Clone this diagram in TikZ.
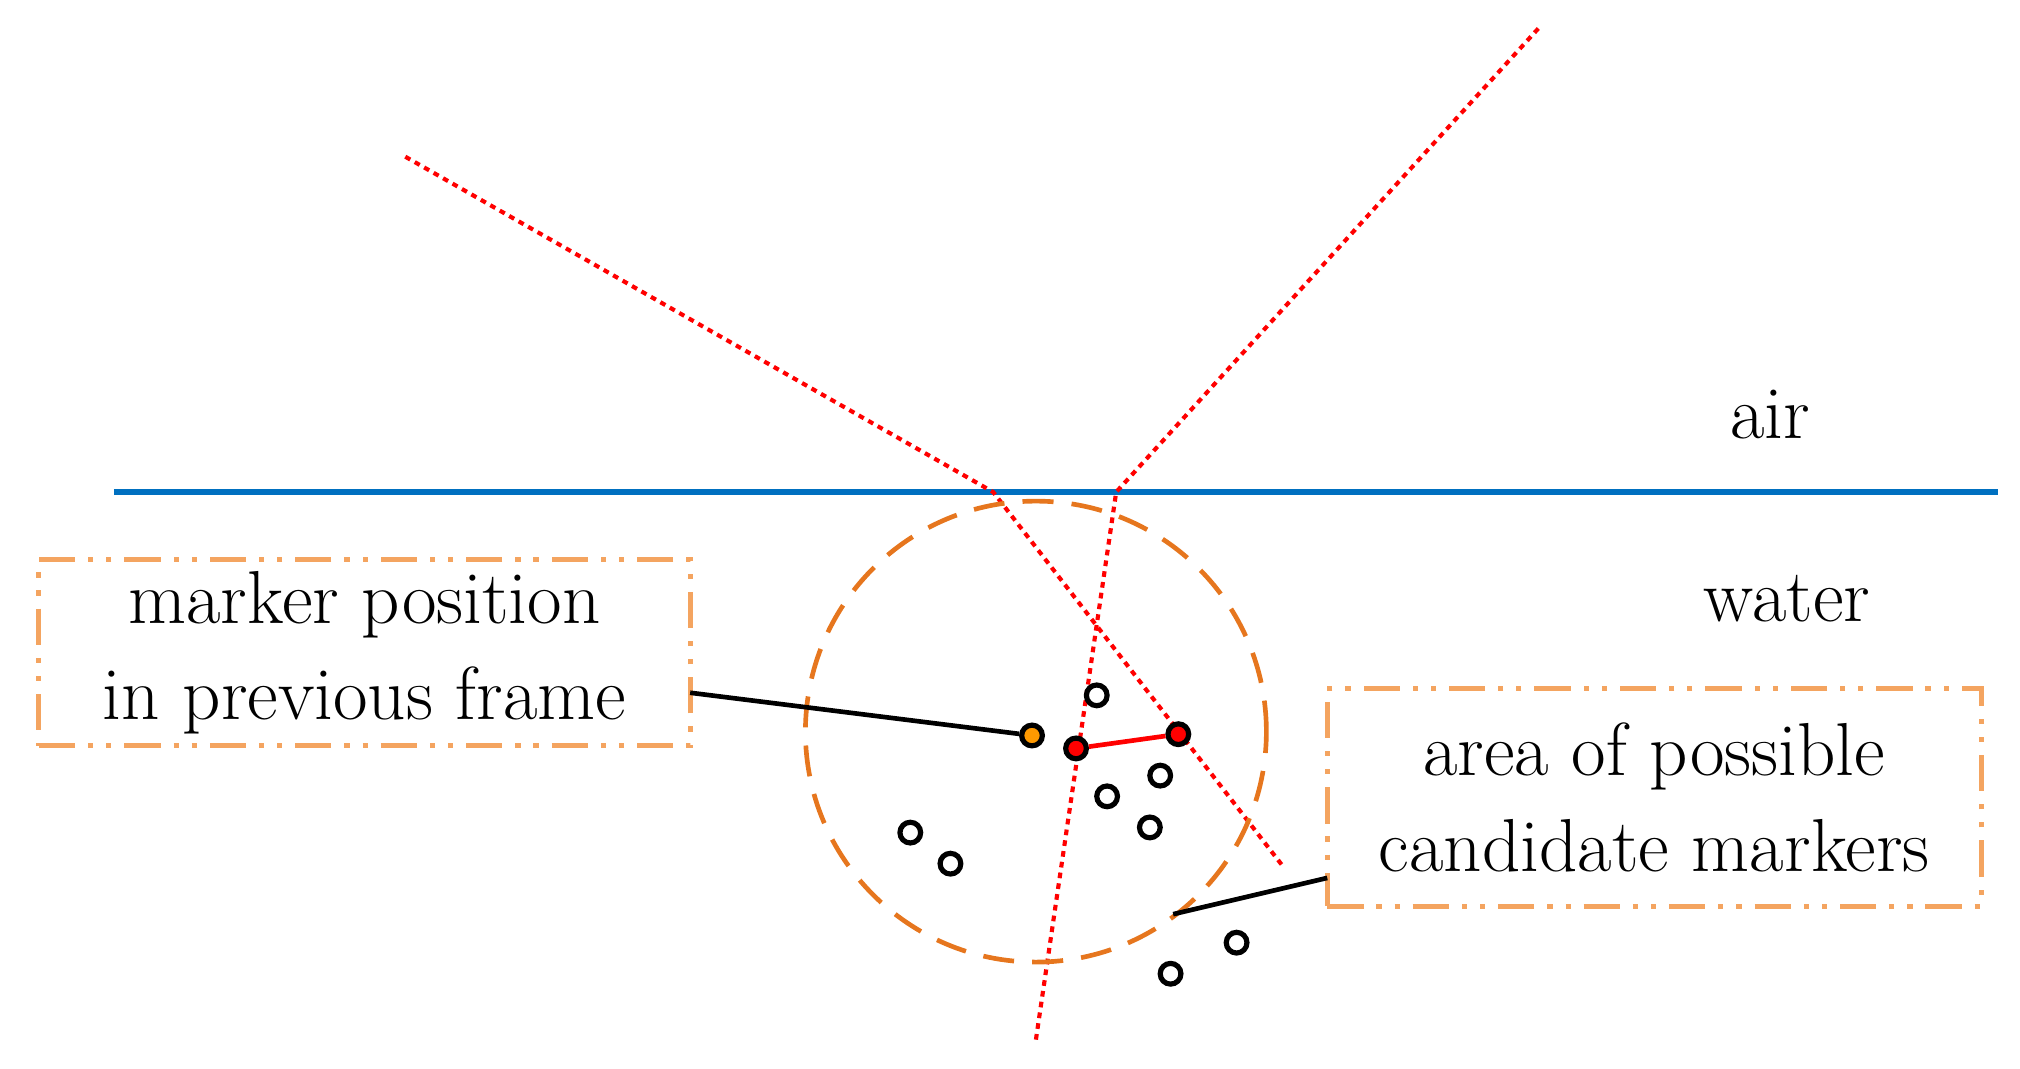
\documentclass[tikz,border=0pt]{standalone}
\begin{document}
\begin{tikzpicture}[x=0.5pt,y=-0.5pt,
  ray/.style={red,line width=1.6pt,dash pattern=on 2.2pt off 2pt},
  box/.style={line width=2pt,dash pattern=on 14pt off 5pt on 2pt off 5pt on 2pt off 5pt},
  lbl/.style={font=\fontsize{29}{37}\selectfont,align=center},
  cand/.style={circle,draw=black,line width=2pt,minimum size=8pt,inner sep=0pt},
  conn/.style={black,line width=1.8pt}]
\useasboundingbox (0,0) rectangle (1560,825);
\definecolor{wblue}{RGB}{0,112,192}
\definecolor{dor}{RGB}{230,118,30}
\definecolor{bor}{RGB}{244,164,96}
\draw[wblue,line width=2.5pt] (88,380) -- (1543,380);
\node[font=\fontsize{29}{30}\selectfont] (air) at (1367,320) {air};
\node[font=\fontsize{29}{30}\selectfont] (water) at (1380,462) {water};
\coordinate (a1) at (313,121); \coordinate (a2) at (767,380); \coordinate (a3) at (990,668);
\coordinate (b1) at (1188,22); \coordinate (b2) at (862,380); \coordinate (b3) at (800,803);
\draw[ray] (a1) -- (a2) -- (a3);
\draw[ray] (b1) -- (b2) -- (b3);
\node[circle,draw=dor,line width=1.8pt,dash pattern=on 12pt off 7pt,minimum size=178pt,inner sep=0pt] (area) at (800,565) {};
\node[box,draw=bor,minimum width=251.5pt,minimum height=72pt,inner sep=0pt] (b1box) at (281.5,504) {};
\node[lbl] (t1) at (b1box) {marker position\\in previous frame};
\node[box,draw=bor,minimum width=252.5pt,minimum height=84pt,inner sep=0pt] (b2box) at (1277.5,616) {};
\node[lbl] (t2) at (b2box) {area of possible\\candidate markers};
\node[cand] (c1) at (847,537) {};
\node[cand] (c2) at (896,599) {};
\node[cand] (c3) at (855,615) {};
\node[cand] (c4) at (888,639) {};
\node[cand] (c5) at (703,643) {};
\node[cand] (c6) at (734,667) {};
\node[cand] (c7) at (955,728) {};
\node[cand] (c8) at (904,752) {};
\node[cand,fill=orange!80!yellow] (prev) at (797,568) {};
\node[cand,fill=red] (r1) at (831,578) {};
\node[cand,fill=red] (r2) at (910,567) {};
\draw[red,line width=1.8pt] (r1) -- (r2);
\coordinate (p1) at (533,535); \coordinate (p2) at (1025,678); \coordinate (q2) at (906,706);
\draw[conn] (p1) -- (prev);
\draw[conn] (p2) -- (q2);
\end{tikzpicture}
\end{document}
